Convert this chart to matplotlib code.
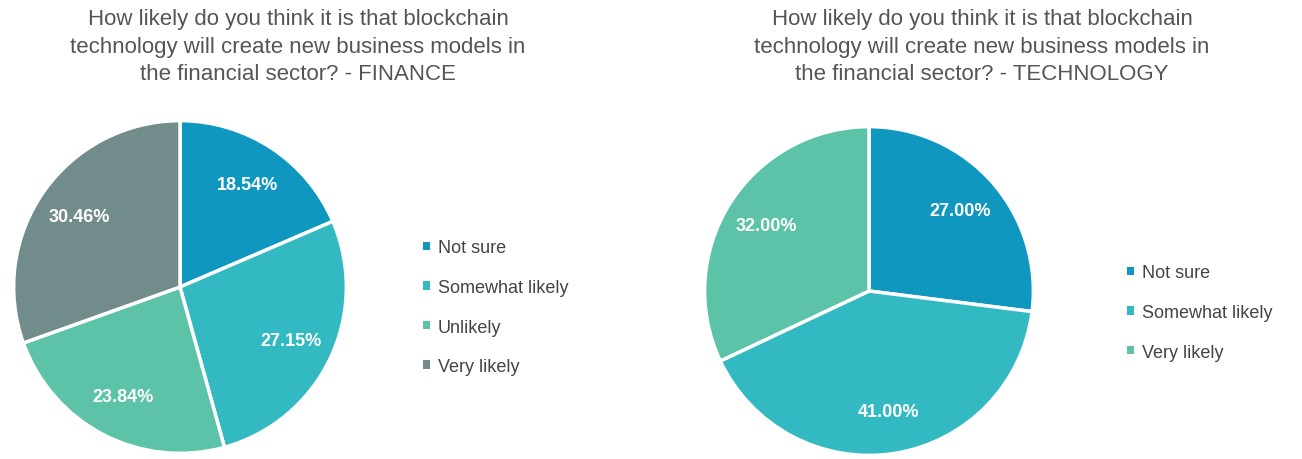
import matplotlib.pyplot as plt
from matplotlib.patches import Patch

plt.rcParams['font.family'] = ['Liberation Sans', 'DejaVu Sans']

question = ("How likely do you think it is that blockchain\n"
            "technology will create new business models in\n"
            "the financial sector? - ")

fin_labels = ["Not sure", "Somewhat likely", "Unlikely", "Very likely"]
fin_values = [18.54, 27.15, 23.84, 30.46]
fin_colors = ["#0f97bf", "#33b9c1", "#5cc2a8", "#728c8c"]

tech_labels = ["Not sure", "Somewhat likely", "Very likely"]
tech_values = [27.00, 41.00, 32.00]
tech_colors = ["#0f97bf", "#33b9c1", "#5cc2a8"]

W, H = 1302, 460
fig = plt.figure(figsize=(W / 100, H / 100), dpi=100)


def draw_pie(cx, cy, r, values, labels, colors, suffix, title_x, legend_x, legend_y):
    ax = fig.add_axes([(cx - r) / W, (H - cy - r) / H, 2 * r / W, 2 * r / H])
    wedges, _, autotexts = ax.pie(
        values, colors=colors, startangle=90, counterclock=False,
        autopct=lambda p: f"{p:.2f}%", pctdistance=0.74,
        wedgeprops=dict(edgecolor="white", linewidth=2.5),
        textprops=dict(color="white", fontsize=13, fontweight="bold"))
    ax.set_xlim(-1.01, 1.01)
    ax.set_ylim(-1.01, 1.01)
    ax.set_aspect("equal")
    fig.text(title_x / W, 1 - 9 / H, question + suffix, ha="center", va="top",
             fontsize=16, color="#555555", linespacing=1.42)
    handles = [Patch(facecolor=c, edgecolor="none") for c in colors]
    fig.legend(handles, labels, loc="upper left",
               bbox_to_anchor=(legend_x / W, 1 - legend_y / H),
               frameon=False, fontsize=13, labelcolor="#444444",
               handlelength=0.35, handleheight=0.35, handletextpad=0.45,
               labelspacing=1.25, borderpad=0.3)


draw_pie(180, 288, 168, fin_values, fin_labels, fin_colors, "FINANCE",
         298, 409, 226)
draw_pie(869, 292, 166, tech_values, tech_labels, tech_colors, "TECHNOLOGY",
         982, 1113, 251)

fig.savefig("out.png", dpi=100)
